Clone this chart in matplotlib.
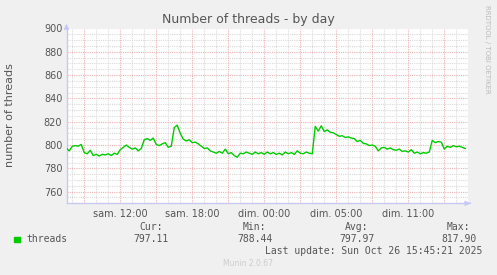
import matplotlib
matplotlib.use("Agg")
import matplotlib.pyplot as plt
import numpy as np

# ---- data ----
# time in hours since Saturday 00:00 (local CEST), one sample per 15 minutes
t_start = 7.5
t_step = 0.25
threads = [
    797.5, 795.0, 799.0, 799.5, 799.0, 800.5, 793.5, 792.5, 795.5, 791.0,
    792.0, 790.5, 792.0, 791.5, 792.5, 791.0, 793.0, 792.0, 796.0, 798.0,
    800.0, 798.0, 796.5, 797.5, 795.0, 797.0, 804.5, 805.5, 804.0, 806.0,
    800.5, 799.5, 801.0, 802.0, 798.0, 799.0, 815.0, 817.0, 810.0, 805.0,
    803.5, 804.5, 802.0, 802.5, 801.0, 799.0, 797.0, 797.5, 795.0, 794.0,
    793.0, 794.5, 793.0, 796.5, 792.5, 793.5, 791.0, 789.5, 793.0, 792.5,
    794.0, 793.0, 792.0, 794.0, 792.5, 793.5, 792.0, 794.0, 792.5, 793.5,
    792.0, 793.0, 791.5, 794.0, 792.5, 793.5, 792.0, 795.0, 793.0, 792.5,
    794.0, 793.0, 792.5, 816.0, 812.0, 816.5, 811.5, 813.0, 811.0, 810.5,
    809.0, 807.5, 808.0, 806.5, 807.0, 806.0, 805.5, 803.0, 804.0, 801.5,
    801.0, 799.5, 800.0, 799.0, 795.0, 797.5, 798.0, 796.5, 797.5, 796.0,
    795.5, 796.5, 794.5, 795.0, 794.0, 796.0, 793.0, 794.0, 792.5, 793.5,
    793.0, 794.0, 804.0, 802.0, 803.0, 802.5, 796.5, 799.0, 798.0, 799.5,
    798.5, 799.0, 798.0, 797.0,
]
x_tick_pos = [12, 18, 24, 30, 36]
x_tick_labels = ["sam. 12:00", "sam. 18:00", "dim. 00:00", "dim. 05:00", "dim. 11:00"]
y_ticks = [760, 780, 800, 820, 840, 860, 880, 900]
legend_name = "threads"
stat_names = ["Cur:", "Min:", "Avg:", "Max:"]
stat_values = ["797.11", "788.44", "797.97", "817.90"]
title = "Number of threads - by day"
ylabel = "number of threads"
last_update = "Last update: Sun Oct 26 15:45:21 2025"
version = "Munin 2.0.67"
side_text = "RRDTOOL / TOBI OETIKER"

times = t_start + t_step * np.arange(len(threads))

W, H = 497, 275
fig = plt.figure(figsize=(W / 100, H / 100), dpi=100)
fig.patch.set_facecolor("#F0F0F0")

left_px, right_px, top_px, bot_px = 66.5, 468.3, 28.5, 203.3
ax = fig.add_axes([left_px / W, 1 - bot_px / H, (right_px - left_px) / W, (bot_px - top_px) / H])
ax.set_facecolor("white")

x0, x1 = 7.52, 7.52 + (right_px - left_px) / 12.0
ax.set_xlim(x0, x1)
ax.set_ylim(750, 900)

# grid
minor_col = "#DADADA"
major_col = "#EDB2B2"
glw = 0.8
dots = (0, (1, 1))
for h in np.arange(8, 41, 1):
    if h % 3 == 0:
        continue
    ax.axvline(h, color=minor_col, lw=glw, ls=dots, zorder=1)
for v in np.arange(755, 901, 5):
    if v % 20 == 0:
        continue
    ax.axhline(v, color=minor_col, lw=glw, ls=dots, zorder=1)
for h in np.arange(9, 41, 3):
    ax.axvline(h, color=major_col, lw=glw, ls=dots, zorder=1.5)
for v in y_ticks:
    ax.axhline(v, color=major_col, lw=glw, ls=dots, zorder=1.5)

ax.plot(times, threads, color="#00CC00", lw=1.0, zorder=3)

# axes styling
for s in ["top", "right"]:
    ax.spines[s].set_visible(False)
for s in ["left", "bottom"]:
    ax.spines[s].set_color("#C8C8F0")
    ax.spines[s].set_linewidth(1.0)

ax.set_yticks(y_ticks)
ax.set_yticklabels([str(v) for v in y_ticks])
ax.set_xticks(x_tick_pos)
ax.set_xticklabels(x_tick_labels)
ax.tick_params(axis="both", length=0, labelsize=7, labelcolor="#555555", pad=3)
ax.tick_params(axis="x", pad=4)

# arrows
ax.annotate("", xy=(x0, 900 + 7.5 / 1.166), xytext=(x0, 899),
            arrowprops=dict(arrowstyle="-|>", color="#C8C8F8", lw=1, mutation_scale=7),
            annotation_clip=False)
ax.annotate("", xy=(x1 + 5 / 12, 750), xytext=(x1 - 0.05, 750),
            arrowprops=dict(arrowstyle="-|>", color="#C8C8F8", lw=1, mutation_scale=7),
            annotation_clip=False)

def fx(px):
    return px / W

def fy(py):
    return 1 - py / H

fig.text(fx(248), fy(19), title, ha="center", va="center", fontsize=9, color="#555555")
fig.text(fx(10), fy(115), ylabel, ha="center", va="center", rotation=90, fontsize=8, color="#555555")
fig.text(fx(487), fy(5), side_text, ha="center", va="top", rotation=270, fontsize=5, color="#BBBBBB")

mono = "DejaVu Sans Mono"
fig.patches.append(plt.Rectangle((fx(14), fy(242.3)), 6 / W, 5.6 / H, transform=fig.transFigure,
                                 color="#00CC00", figure=fig))
fig.text(fx(26.5), fy(239.5), legend_name, ha="left", va="center", fontsize=7, family=mono, color="#555555")

name_right = [163, 266, 368, 470]
val_right = [169, 272.7, 375, 476.7]
for n, v, nr, vr in zip(stat_names, stat_values, name_right, val_right):
    fig.text(fx(nr), fy(227.5), n, ha="right", va="center", fontsize=7, family=mono, color="#555555")
    fig.text(fx(vr), fy(239.5), v, ha="right", va="center", fontsize=7, family=mono, color="#555555")
fig.text(fx(482), fy(251), last_update, ha="right", va="center", fontsize=7, family=mono, color="#555555")
fig.text(fx(248), fy(264), version, ha="center", va="center", fontsize=5.5, color="#CCCCCC")

fig.savefig("out.png", dpi=100, facecolor=fig.get_facecolor())
